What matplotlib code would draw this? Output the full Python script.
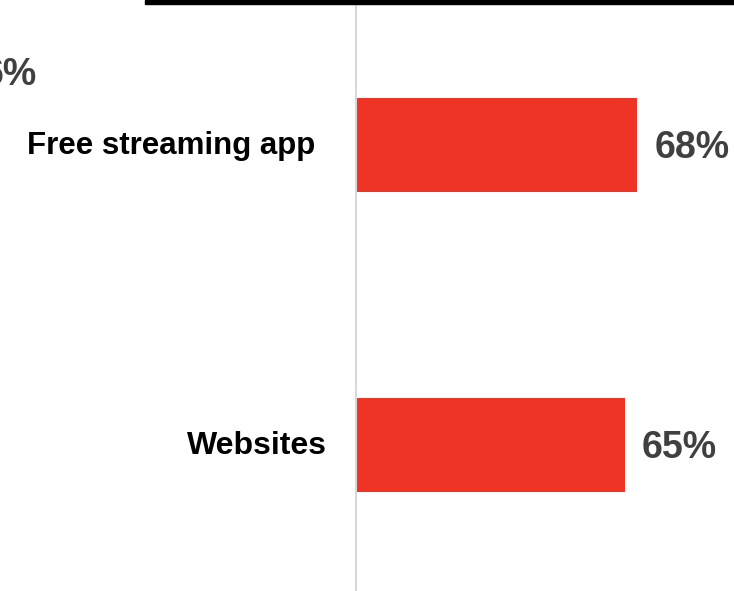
import matplotlib.pyplot as plt
from matplotlib.patches import Rectangle

plt.rcParams['font.family'] = ['Liberation Sans', 'DejaVu Sans']

categories = ['Free streaming app', 'Websites']
values = [68, 65]
value_labels = ['68%', '65%']
side_label = '6%'

fig = plt.figure(figsize=(7.34, 5.91), dpi=100)
ax = fig.add_axes([356 / 734, 0, 378 / 734, 1])

pos = list(range(len(categories)))
ax.barh(pos, values, height=0.313, color='#ee3424', zorder=2)

for p, v, lab in zip(pos, values, value_labels):
    ax.annotate(lab, (v, p), xytext=(17, -3), textcoords='offset pixels',
                ha='left', va='center', fontsize=27, fontweight='bold',
                color='#404040')

# category names sit left of the axis line, each with its own gap
label_gap = [41, 29]
label_size = [22.5, 23]
for p, name, gap, fs in zip(pos, categories, label_gap, label_size):
    ax.annotate(name, (0, p), xytext=(-gap, -1), textcoords='offset pixels',
                ha='right', va='center', fontsize=fs, fontweight='bold',
                color='black', annotation_clip=False)

ax.set_yticks([])
ax.tick_params(axis='x', bottom=False, labelbottom=False)

ax.set_xlim(0, 378 / 4.135)
ax.set_ylim(-0.4833 + 591 / 300, -0.4833)

for s in ['top', 'right', 'bottom']:
    ax.spines[s].set_visible(False)
ax.spines['left'].set_color('#d9d9d9')
ax.spines['left'].set_linewidth(1.5)

# header band and neighbouring panel's label
fig.patches.append(Rectangle((145 / 734, 1 - 4 / 591), 1, 4 / 591,
                             transform=fig.transFigure, color='black', zorder=5))
fig.text(37 / 734, 1 - 75 / 591, side_label, ha='right', va='center',
         fontsize=27, fontweight='bold', color='#404040')

fig.savefig('out.png', dpi=100)
